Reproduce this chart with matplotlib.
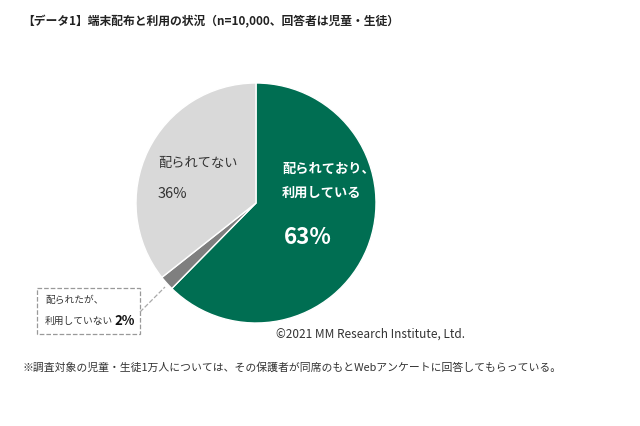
import matplotlib.pyplot as plt
from matplotlib.patches import Rectangle

plt.rcParams['font.family'] = 'Noto Sans CJK JP'

labels = ['配られており、利用している', '配られたが、利用していない', '配られてない']
values = [63, 2, 36]
colors = ['#006e52', '#7f7f7f', '#d9d9d9']

W, H = 640, 426
fig = plt.figure(figsize=(6.4, 4.26), dpi=100)
ax = fig.add_axes([0, 0, 1, 1])

cx, cy, r = 256, 203, 120
# y axis is inverted below, so counterclock=True renders clockwise
ax.pie(values, colors=colors, startangle=-90, counterclock=True,
       center=(cx, cy), radius=r, frame=True,
       wedgeprops=dict(edgecolor='white', linewidth=1.0))
ax.set_xlim(0, W)
ax.set_ylim(H, 0)
ax.set_aspect('equal')
ax.axis('off')

ax.text(22, 22, '【データ1】端末配布と利用の状況（n=10,000、回答者は児童・生徒）',
        fontsize=8.5, fontweight='bold', va='center', color='#222222')

ax.text(282, 181, '配られており、\n利用している', fontsize=9.5, color='white',
        fontweight='bold', va='center', linespacing=1.9)
ax.text(284, 238, f'{values[0]}%', fontsize=16, color='white',
        fontweight='bold', va='center')

ax.text(158, 163, '配られてない', fontsize=9.5, color='#333333', va='center')
ax.text(158, 194, f'{values[2]}%', fontsize=10.5, color='#333333', va='center')

ax.add_patch(Rectangle((37, 288), 103, 46, fill=False, ls='--',
                       ec='#999999', lw=0.9))
ax.plot([140, 165], [312, 287], ls='--', color='#aaaaaa', lw=0.9)
ax.text(45, 300, '配られたが、', fontsize=7, color='#333333', va='center')
ax.text(45, 321, '利用していない', fontsize=7, color='#333333', va='center')
ax.text(114, 321, f'{values[1]}%', fontsize=9.5, color='#111111',
        fontweight='bold', va='center')

ax.text(276, 334, '©2021 MM Research Institute, Ltd.', fontsize=8.5,
        color='#333333', va='center')
ax.text(22, 368, '※調査対象の児童・生徒1万人については、その保護者が同席のもとWebアンケートに回答してもらっている。',
        fontsize=7.8, color='#333333', va='center')

fig.savefig('out.png', dpi=100, facecolor='white')
